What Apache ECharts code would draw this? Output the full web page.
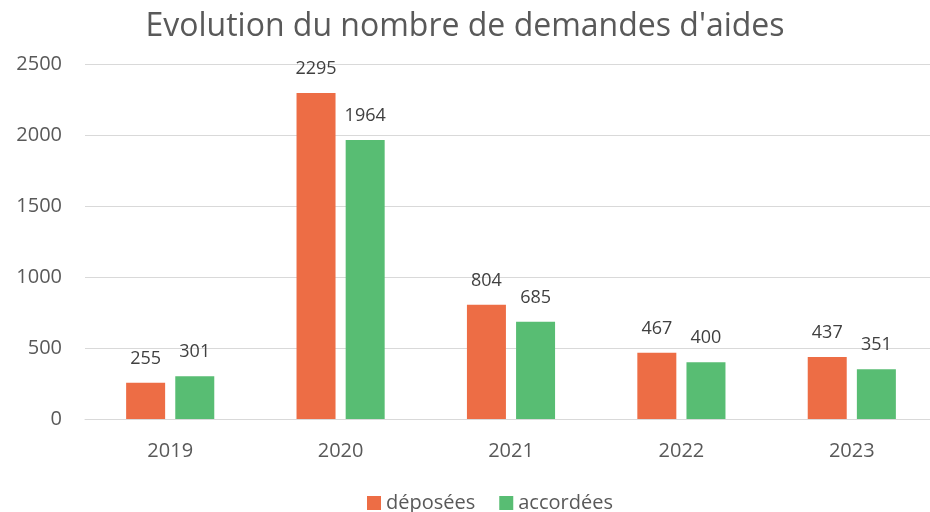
<!DOCTYPE html>
<html>
<head>
<meta charset="utf-8">
<script src="https://cdn.jsdelivr.net/npm/echarts@6/dist/echarts.min.js"></script>
<style>
  html, body { margin: 0; padding: 0; background: #fff; }
  #chart { width: 930px; height: 512px; }
</style>
</head>
<body>
<div id="chart"></div>
<script>
const years = ['2019', '2020', '2021', '2022', '2023'];
const deposees = [255, 2295, 804, 467, 437];
const accordees = [301, 1964, 685, 400, 351];
const yTicks = [0, 500, 1000, 1500, 2000, 2500];

const chart = echarts.init(document.getElementById('chart'));
const font = '"Open Sans", "DejaVu Sans", sans-serif';

chart.setOption({
  animation: false,
  textStyle: { fontFamily: font },
  title: {
    text: "Evolution du nombre de demandes d'aides",
    left: 'center',
    top: 6,
    textStyle: { fontSize: 32, fontWeight: 'normal', color: '#595959', fontFamily: font }
  },
  grid: { left: 85, right: -7, top: 64, bottom: 93, outerBoundsMode: 'none' },
  legend: {
    top: 488,
    left: 362,
    itemWidth: 14,
    itemHeight: 14,
    itemGap: 24,
    icon: 'rect',
    textStyle: { fontSize: 20, color: '#595959', fontFamily: font },
    data: ['déposées', 'accordées']
  },
  xAxis: {
    type: 'category',
    data: years,
    axisLine: { lineStyle: { color: '#d9d9d9', width: 1 } },
    axisTick: { show: false },
    axisLabel: { fontSize: 20, color: '#595959', margin: 22 }
  },
  yAxis: {
    type: 'value',
    min: yTicks[0],
    max: yTicks[yTicks.length - 1],
    interval: 500,
    axisLine: { show: false },
    axisTick: { show: false },
    splitLine: { lineStyle: { color: '#d9d9d9', width: 1 } },
    axisLabel: { fontSize: 20, color: '#595959', margin: 23, formatter: v => String(v) }
  },
  series: [
    {
      name: 'déposées',
      type: 'bar',
      data: deposees,
      barWidth: 39,
      barGap: '26%',
      itemStyle: { color: '#ED6D45' },
      label: { show: true, position: 'top', distance: 15, fontSize: 18, color: '#404040' }
    },
    {
      name: 'accordées',
      type: 'bar',
      data: accordees,
      barWidth: 39,
      itemStyle: { color: '#58BD73' },
      label: { show: true, position: 'top', distance: 15, fontSize: 18, color: '#404040' }
    }
  ]
});
</script>
</body>
</html>
